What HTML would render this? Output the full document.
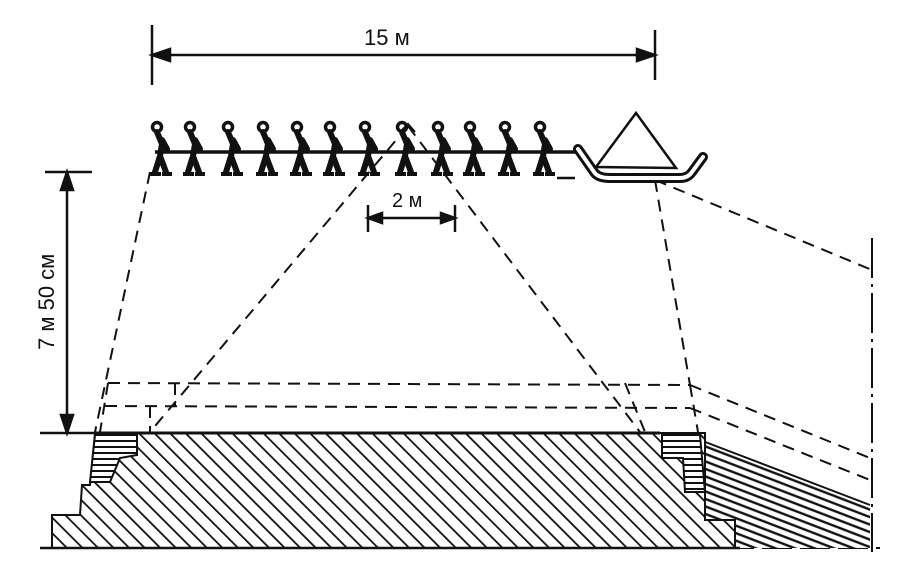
<!DOCTYPE html>
<html><head><style>
html,body{margin:0;padding:0;background:#fff;}
svg{display:block}
text{font-family:"Liberation Sans",sans-serif;fill:#111}
</style></head><body>
<svg width="900" height="583" viewBox="0 0 900 583" xmlns="http://www.w3.org/2000/svg">
<defs>
<pattern id="diag" patternUnits="userSpaceOnUse" width="11" height="11" patternTransform="rotate(-45)">
<rect width="11" height="11" fill="#fff"/><line x1="0" y1="0" x2="0" y2="11" stroke="#111" stroke-width="3.6"/>
</pattern>
<pattern id="hor" patternUnits="userSpaceOnUse" width="10" height="6">
<rect width="10" height="6" fill="#fff"/><line x1="0" y1="3" x2="10" y2="3" stroke="#111" stroke-width="2"/>
</pattern>
<pattern id="slope" patternUnits="userSpaceOnUse" width="10" height="7" patternTransform="rotate(21)">
<rect width="10" height="7" fill="#fff"/><line x1="0" y1="3" x2="10" y2="3" stroke="#111" stroke-width="2.4"/>
</pattern>
<g id="man">
<circle cx="0" cy="-25" r="4.5" fill="#fff" stroke="#111" stroke-width="3.5"/>
<path d="M0,-20 L5,-8 L3,4 M5,-12 L10,-3 M3,4 L-2,20 M3,4 L9,20" fill="none" stroke="#111" stroke-width="6" stroke-linecap="round"/>
<path d="M-7,22 L4,22 M5,22 L15,22" stroke="#111" stroke-width="4"/>
</g>
</defs>

<g stroke="#111" stroke-width="2.5" fill="none">
<line x1="152" y1="25" x2="152" y2="85"/><line x1="655" y1="30" x2="655" y2="80"/>
<line x1="152" y1="55" x2="655" y2="55"/>
<path d="M152,55 l18,-6 l0,12 z M655,55 l-18,-6 l0,12 z" fill="#111"/>
<line x1="45" y1="172" x2="92" y2="172"/><line x1="40" y1="433" x2="95" y2="433"/>
<line x1="67" y1="172" x2="67" y2="433"/>
<path d="M67,172 l-6,18 l12,0 z M67,433 l-6,-18 l12,0 z" fill="#111"/>
<line x1="368" y1="205" x2="368" y2="232"/><line x1="455" y1="205" x2="455" y2="232"/>
<line x1="368" y1="218" x2="455" y2="218"/>
<path d="M368,218 l14,-5 l0,10 z M455,218 l-14,-5 l0,10 z" fill="#111"/>
</g>
<text x="364" y="45" font-size="22">15 м</text>
<text x="392" y="207" font-size="20">2 м</text>
<text x="0" y="0" font-size="22" transform="translate(54,350) rotate(-90)">7 м 50 см</text>

<g stroke="#111" stroke-width="2" fill="none" stroke-dasharray="12,8">
<line x1="150" y1="172" x2="95" y2="432"/>
<line x1="655" y1="180" x2="690" y2="385"/>
<line x1="655" y1="180" x2="872" y2="270"/>
<line x1="408" y1="126" x2="150" y2="432"/>
<line x1="408" y1="126" x2="640" y2="432"/>
<line x1="108" y1="383" x2="690" y2="385"/>
<line x1="105" y1="406" x2="690" y2="408"/>
<line x1="690" y1="385" x2="870" y2="458"/>
<line x1="690" y1="408" x2="870" y2="480"/>
<line x1="108" y1="383" x2="100" y2="432"/>
<line x1="175" y1="383" x2="175" y2="406"/>
<line x1="150" y1="406" x2="150" y2="432"/>
<line x1="625" y1="383" x2="645" y2="432"/>
<line x1="690" y1="385" x2="698" y2="432"/>
<line x1="40" y1="548" x2="880" y2="548" stroke-dasharray="30,8"/>
<line x1="872" y1="238" x2="872" y2="552" stroke-dasharray="40,6,3,6"/>
</g>

<path d="M870,505 L700,440 L700,548 L870,548 Z" fill="url(#slope)"/>
<path d="M700,440 L870,505" stroke="#111" stroke-width="2"/>
<path d="M95,433 L705,433 L705,520 L735,520 L735,548 L52,548 L52,515 L80,515 L82,485 L90,485 Z" fill="url(#diag)" stroke="#111" stroke-width="2"/>
<path d="M95,435 L137,435 L137,455 L120,458 L110,482 L90,482 Z" fill="url(#hor)" stroke="#111" stroke-width="2"/>
<path d="M662,435 L700,435 L705,492 L685,492 L683,458 L662,458 Z" fill="url(#hor)" stroke="#111" stroke-width="2"/>
<line x1="95" y1="433" x2="660" y2="433" stroke="#111" stroke-width="3"/>
<line x1="40" y1="548" x2="740" y2="548" stroke="#111" stroke-width="2.5"/>

<line x1="155" y1="152" x2="580" y2="152" stroke="#111" stroke-width="3.5"/>
<use href="#man" x="157" y="152"/><use href="#man" x="190" y="152"/><use href="#man" x="228" y="152"/>
<use href="#man" x="263" y="152"/><use href="#man" x="297" y="152"/><use href="#man" x="330" y="152"/>
<use href="#man" x="365" y="152"/><use href="#man" x="402" y="152"/><use href="#man" x="438" y="152"/>
<use href="#man" x="470" y="152"/><use href="#man" x="505" y="152"/><use href="#man" x="540" y="152"/>
<line x1="557" y1="178" x2="575" y2="178" stroke="#111" stroke-width="2.5"/>
<path d="M400,132 L408,124 L415,132" fill="none" stroke="#111" stroke-width="2"/>
<path d="M578,149 L594,172 Q598,178 610,178 L680,178 Q688,178 692,172 L703,157" fill="none" stroke="#111" stroke-width="10" stroke-linecap="round"/>
<path d="M578,149 L594,172 Q598,178 610,178 L680,178 Q688,178 692,172 L703,157" fill="none" stroke="#fff" stroke-width="4" stroke-linecap="round"/>
<path d="M636,113 L596,167 L676,168 Z" fill="none" stroke="#111" stroke-width="2.5"/>
</svg>
</body></html>
